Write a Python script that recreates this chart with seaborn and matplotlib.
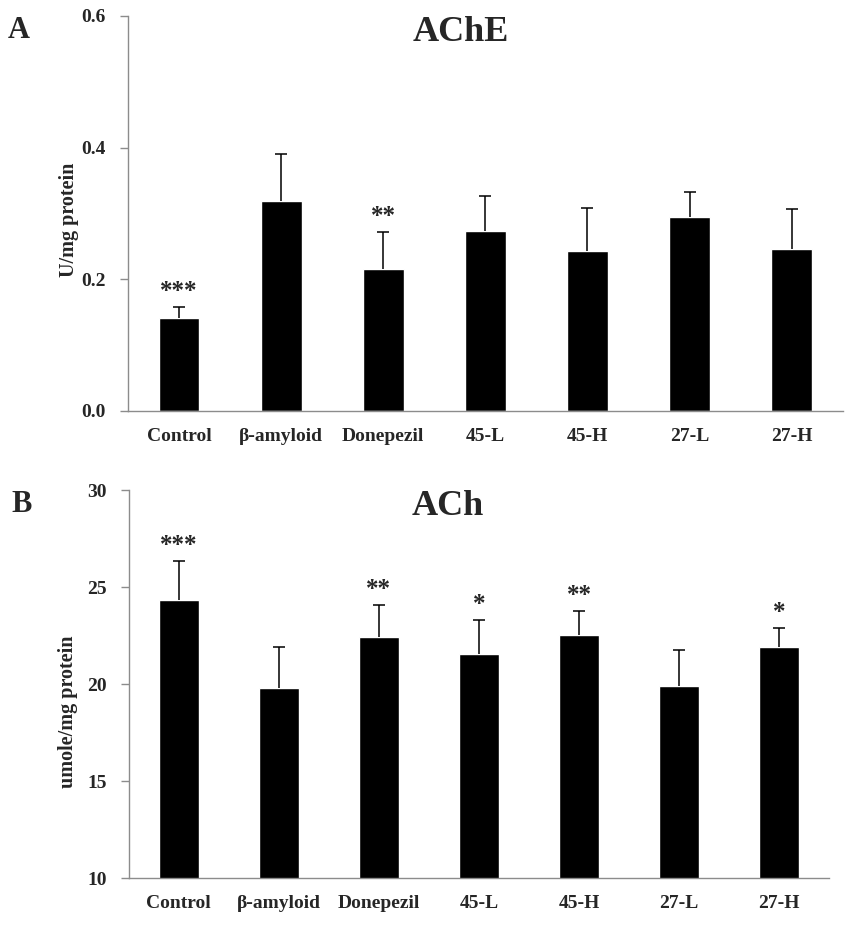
import matplotlib
matplotlib.use("Agg")
import matplotlib.pyplot as plt
import numpy as np
import pandas as pd
import seaborn as sns

groups = ["Control", "β-amyloid", "Donepezil", "45-L", "45-H", "27-L", "27-H"]

ache_mean = [0.141, 0.319, 0.216, 0.274, 0.243, 0.295, 0.246]
ache_err = [0.017, 0.071, 0.056, 0.052, 0.065, 0.037, 0.061]
ache_sig = ["***", "", "**", "", "", "", ""]

ach_mean = [24.31, 19.78, 22.42, 21.55, 22.53, 19.88, 21.89]
ach_err = [2.01, 2.11, 1.67, 1.77, 1.25, 1.86, 1.01]
ach_sig = ["***", "", "**", "*", "**", "", "*"]

sns.set_theme(style="white")
plt.rcParams["font.family"] = ["Liberation Serif", "DejaVu Serif"]
plt.rcParams["font.weight"] = "bold"

SPINE = "#8c8c8c"


def draw_panel(ax, means, errs, sig, ylim, yticks, yfmt, ylabel, label_pos,
               title, title_x, letter):
    df = pd.DataFrame({"group": groups, "value": means})
    sns.barplot(data=df, x="group", y="value", color="black", width=0.4,
                saturation=1, errorbar=None, ax=ax)
    x = np.arange(len(groups))
    _, caps, _ = ax.errorbar(x, means, yerr=[np.zeros(len(errs)), errs], fmt="none",
                             ecolor="black", elinewidth=1.1, capsize=4.5, capthick=1.1)
    # only the upper cap is shown
    caps[0].set_visible(False)
    for xi, m, e, s in zip(x, means, errs, sig):
        if s:
            ax.annotate(s, (xi, m + e), xytext=(0, 3), textcoords="offset points",
                        ha="center", va="bottom", fontsize=18, fontweight="bold")
    ax.set_xlim(-0.5, len(groups) - 0.5)
    ax.set_ylim(*ylim)
    ax.set_yticks(yticks)
    ax.set_yticklabels([yfmt.format(v) for v in yticks], fontsize=14, fontweight="bold")
    ax.set_xticks(x)
    ax.set_xticklabels(groups, fontsize=14, fontweight="bold")
    ax.set_xticks(np.arange(len(groups) + 1) - 0.5, minor=True)
    ax.tick_params(axis="x", which="major", length=0, pad=12)
    ax.tick_params(axis="x", which="minor", length=6, width=1, color=SPINE, direction="out")
    ax.tick_params(axis="y", length=6, width=1, color=SPINE, direction="out", pad=10, left=True)
    ax.set_xlabel("")
    ax.set_ylabel(ylabel, fontsize=14.5, fontweight="bold")
    ax.yaxis.set_label_coords(*label_pos)
    for side in ["top", "right"]:
        ax.spines[side].set_visible(False)
    for side in ["left", "bottom"]:
        ax.spines[side].set_color(SPINE)
        ax.spines[side].set_linewidth(1)
    ax.text(title_x, 1.0, title, transform=ax.transAxes, ha="center", va="top",
            fontsize=26, fontweight="bold")
    ax.text(-0.168, 1.0, letter, transform=ax.transAxes, ha="left", va="top",
            fontsize=22, fontweight="bold")


fig = plt.figure(figsize=(8.53, 9.33), dpi=100)
ax1 = fig.add_axes([0.150, 0.5595, 0.838, 0.4235])
ax2 = fig.add_axes([0.151, 0.0586, 0.821, 0.4162])

draw_panel(ax1, ache_mean, ache_err, ache_sig, (0, 0.6), [0.0, 0.2, 0.4, 0.6], "{:.1f}",
           "U/mg protein", (-0.068, 0.485), "AChE", 0.466, "A")
draw_panel(ax2, ach_mean, ach_err, ach_sig, (10, 30), [10, 15, 20, 25, 30], "{:.0f}",
           "umole/mg protein", (-0.072, 0.43), "ACh", 0.455, "B")

fig.savefig("out.png", dpi=100)
